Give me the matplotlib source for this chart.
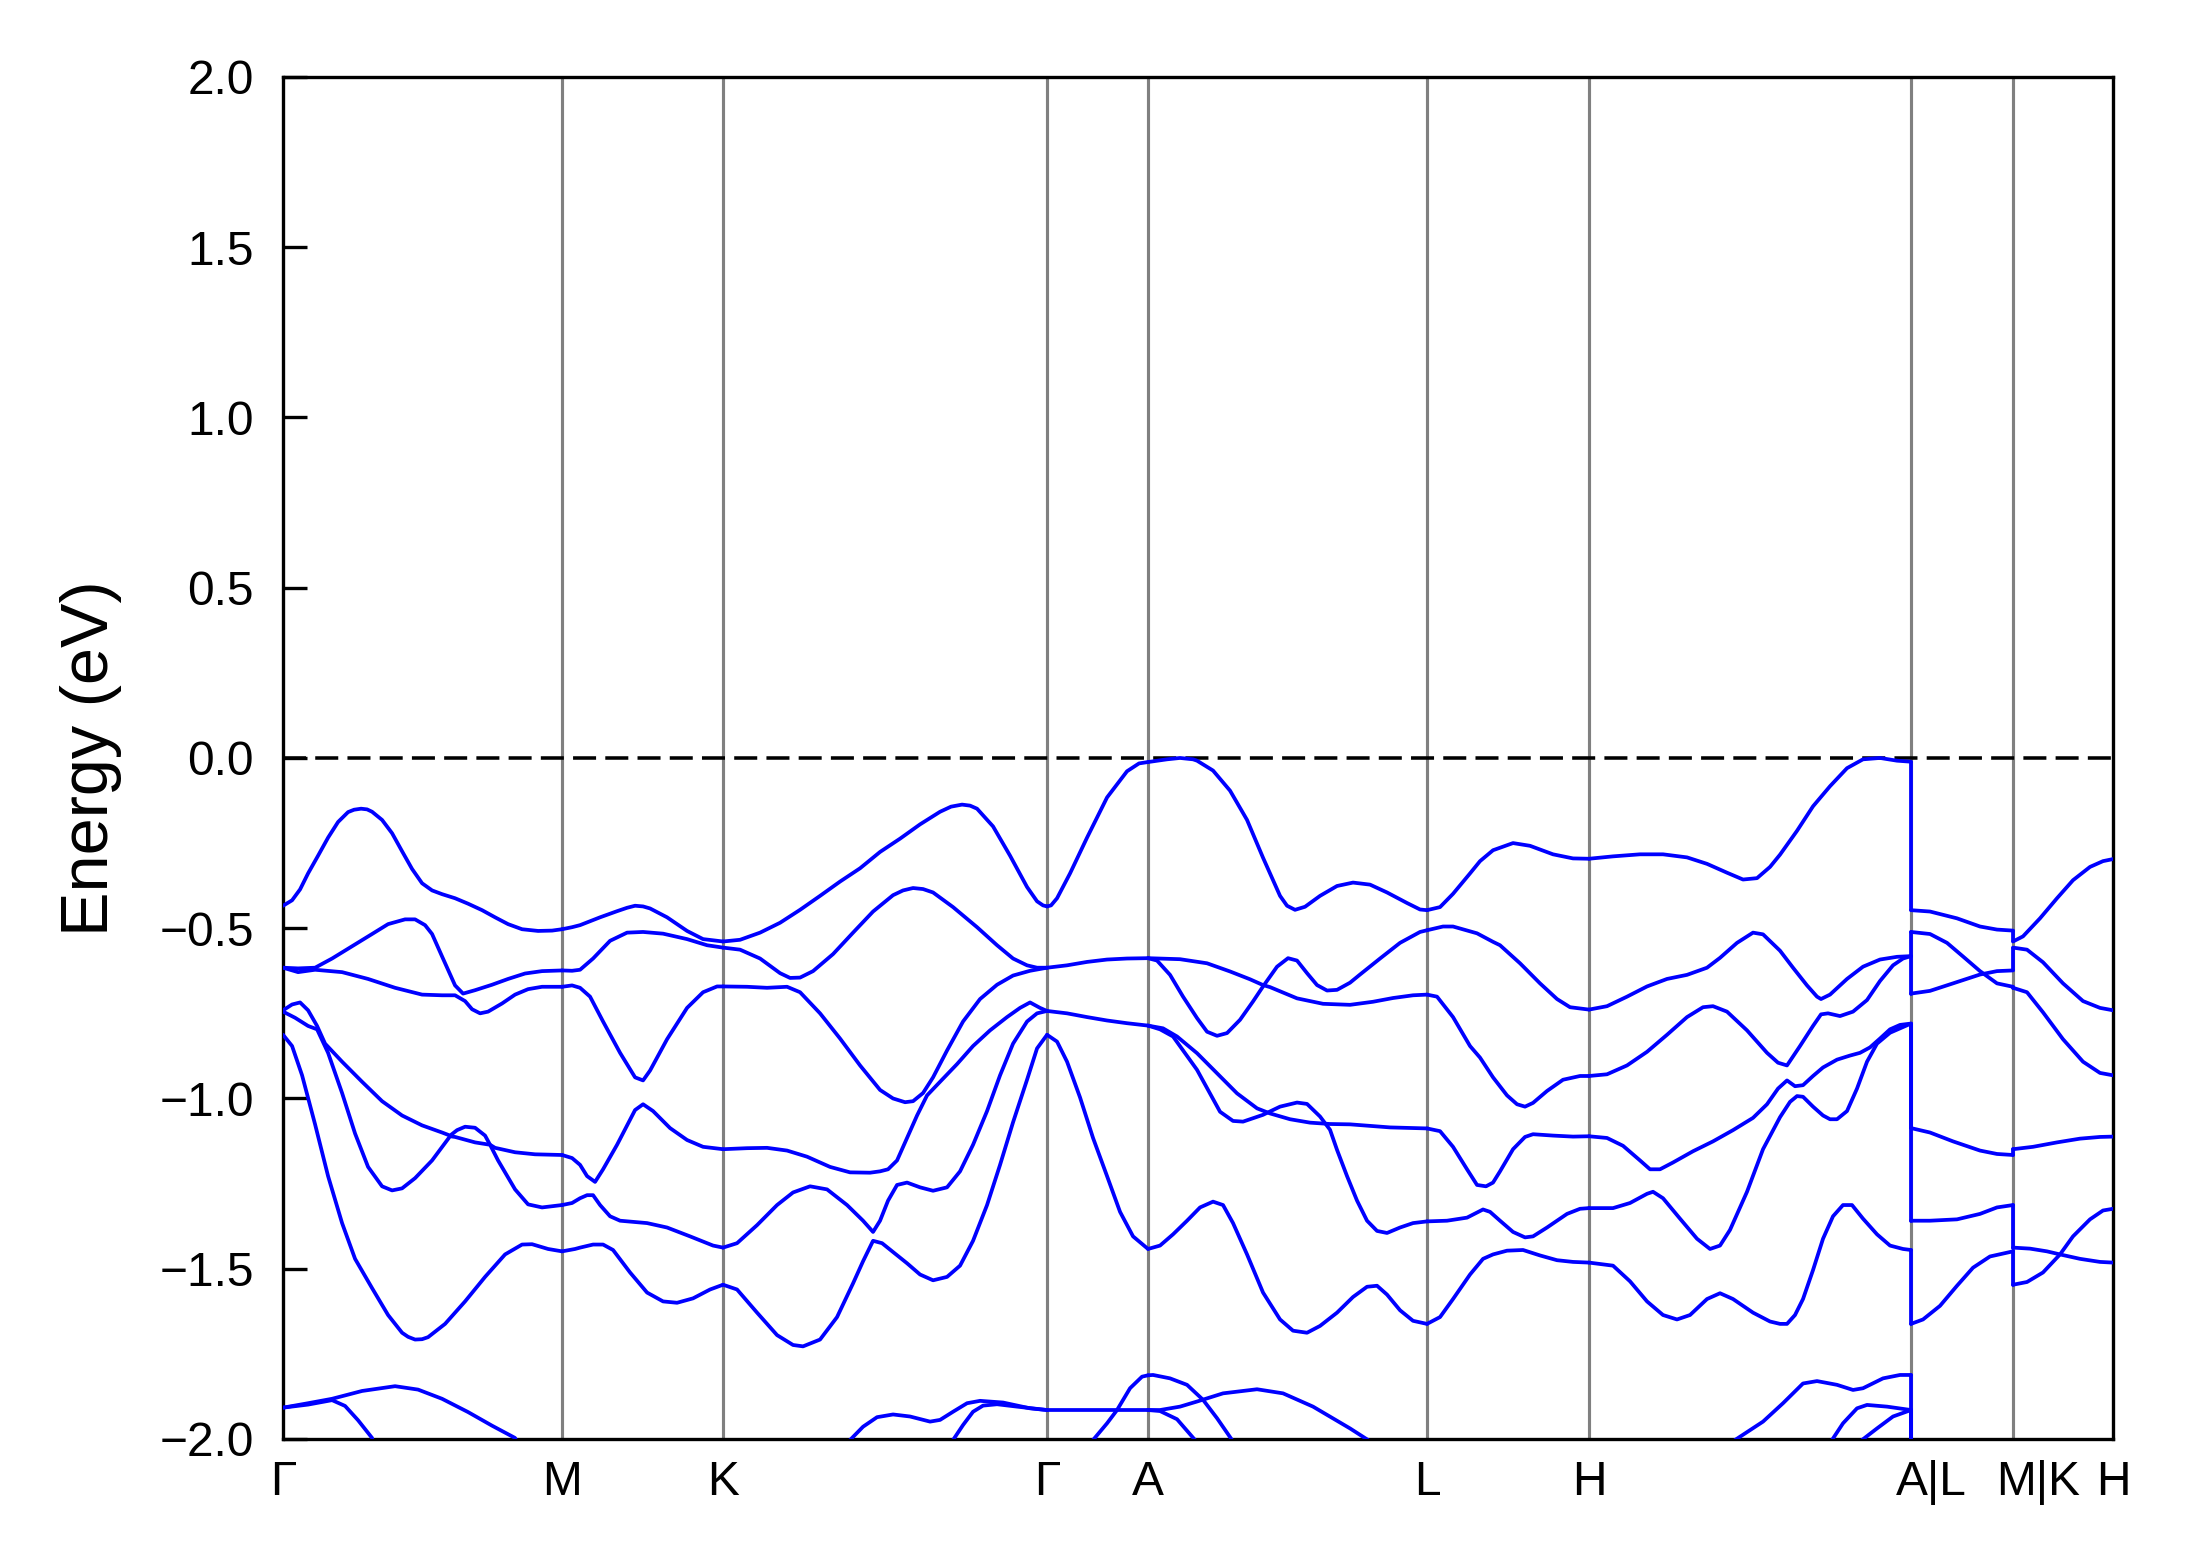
import numpy as np
import matplotlib
matplotlib.use('Agg')
import matplotlib.pyplot as plt
from matplotlib.transforms import ScaledTranslation

plt.rcParams['font.family'] = ['Liberation Sans', 'DejaVu Sans']

# high-symmetry points along the k-path (cumulative distance, arb. units)
kpt_labels = ['Γ', 'M', 'K', 'Γ', 'A', 'L', 'H', 'A|L', 'M|K', 'H']
kpt_pos = [0.0, 2.79, 4.40, 7.64, 8.65, 11.44, 13.06, 16.28, 17.30, 18.30]

# bands (E - E_F, eV) traced segment by segment, each band is a list of (k, E)
seg_GM = [
    [(0.00, -0.434), (0.09, -0.418), (0.17, -0.386), (0.25, -0.339), (0.35, -0.287), (0.45, -0.234),
     (0.55, -0.188), (0.65, -0.159), (0.71, -0.152), (0.78, -0.149), (0.84, -0.151), (0.89, -0.158),
     (0.99, -0.182), (1.09, -0.221), (1.19, -0.274), (1.29, -0.326), (1.39, -0.368), (1.49, -0.389),
     (1.59, -0.400), (1.72, -0.412), (1.85, -0.428), (1.99, -0.447), (2.12, -0.468), (2.25, -0.488),
     (2.39, -0.503), (2.55, -0.508), (2.69, -0.507), (2.79, -0.503)],
    [(0.00, -0.616), (0.15, -0.618), (0.32, -0.616), (0.49, -0.589), (0.69, -0.553), (0.89, -0.517),
     (1.05, -0.488), (1.22, -0.474), (1.32, -0.474), (1.42, -0.491), (1.49, -0.517), (1.59, -0.583),
     (1.72, -0.668), (1.80, -0.692), (1.92, -0.682), (2.09, -0.666), (2.25, -0.649), (2.42, -0.633),
     (2.59, -0.626), (2.79, -0.624)],
    [(0.00, -0.616), (0.15, -0.629), (0.32, -0.622), (0.59, -0.629), (0.85, -0.649), (1.12, -0.675),
     (1.39, -0.695), (1.59, -0.697), (1.72, -0.697), (1.82, -0.714), (1.89, -0.738), (1.97, -0.750),
     (2.05, -0.745), (2.19, -0.721), (2.32, -0.695), (2.45, -0.679), (2.59, -0.672), (2.79, -0.672)],
    [(0.00, -0.741), (0.09, -0.724), (0.17, -0.718), (0.25, -0.741), (0.34, -0.787), (0.42, -0.839),
     (0.59, -0.892), (0.79, -0.951), (0.99, -1.008), (1.19, -1.050), (1.39, -1.079), (1.59, -1.100),
     (1.67, -1.109), (1.74, -1.093), (1.82, -1.083), (1.92, -1.086), (2.02, -1.109), (2.07, -1.136),
     (2.12, -1.145), (2.32, -1.158), (2.52, -1.164), (2.79, -1.166)],
    [(0.00, -0.745), (0.12, -0.763), (0.25, -0.787), (0.34, -0.797), (0.45, -0.866), (0.59, -0.984),
     (0.72, -1.103), (0.85, -1.201), (0.99, -1.258), (1.09, -1.270), (1.19, -1.264), (1.32, -1.234),
     (1.49, -1.182), (1.67, -1.111), (1.72, -1.113), (1.92, -1.129), (2.07, -1.136), (2.15, -1.182),
     (2.32, -1.267), (2.45, -1.311), (2.59, -1.320), (2.79, -1.313)],
    [(0.00, -0.813), (0.09, -0.846), (0.19, -0.932), (0.32, -1.076), (0.45, -1.228), (0.59, -1.366),
     (0.72, -1.471), (0.89, -1.557), (1.05, -1.636), (1.19, -1.688), (1.25, -1.700), (1.32, -1.708),
     (1.39, -1.707), (1.45, -1.701), (1.62, -1.662), (1.82, -1.596), (2.02, -1.524), (2.22, -1.458),
     (2.39, -1.429), (2.49, -1.428), (2.65, -1.442), (2.79, -1.449)],
    [(0.00, -1.908), (0.25, -1.895), (0.49, -1.882), (0.79, -1.859), (1.12, -1.845), (1.35, -1.855),
     (1.59, -1.882), (1.85, -1.921), (2.09, -1.961), (2.32, -1.997), (2.38, -2.04)],
    [(0.00, -1.908), (0.25, -1.899), (0.49, -1.886), (0.62, -1.903), (0.75, -1.945), (0.89, -1.997),
     (0.92, -2.04)],
]

seg_MK = [
    [(2.79, -0.503), (2.89, -0.497), (2.97, -0.491), (3.17, -0.468), (3.34, -0.450), (3.44, -0.440),
     (3.52, -0.434), (3.60, -0.436), (3.67, -0.442), (3.84, -0.468), (4.04, -0.508), (4.20, -0.532),
     (4.40, -0.539)],
    [(2.79, -0.624), (2.89, -0.625), (2.97, -0.622), (3.10, -0.589), (3.27, -0.537), (3.44, -0.513),
     (3.60, -0.511), (3.80, -0.516), (4.04, -0.532), (4.24, -0.550), (4.40, -0.557)],
    [(2.79, -0.672), (2.89, -0.668), (2.97, -0.675), (3.07, -0.701), (3.20, -0.774), (3.37, -0.866),
     (3.52, -0.938), (3.60, -0.947), (3.67, -0.918), (3.84, -0.826), (4.04, -0.734), (4.20, -0.688),
     (4.34, -0.671), (4.40, -0.671)],
    [(2.79, -1.166), (2.89, -1.175), (2.97, -1.195), (3.04, -1.228), (3.12, -1.245), (3.20, -1.208),
     (3.34, -1.136), (3.52, -1.034), (3.60, -1.017), (3.70, -1.037), (3.87, -1.087), (4.04, -1.122),
     (4.20, -1.142), (4.40, -1.149)],
    [(2.79, -1.313), (2.89, -1.307), (2.97, -1.293), (3.04, -1.284), (3.10, -1.284), (3.17, -1.313),
     (3.27, -1.346), (3.37, -1.359), (3.64, -1.366), (3.84, -1.379), (4.07, -1.405), (4.30, -1.432),
     (4.40, -1.438)],
    [(2.79, -1.449), (2.92, -1.442), (2.97, -1.438), (3.10, -1.429), (3.20, -1.429), (3.30, -1.445),
     (3.47, -1.511), (3.64, -1.570), (3.80, -1.596), (3.94, -1.600), (4.10, -1.587), (4.27, -1.561),
     (4.40, -1.547)],
]

seg_KG = [
    [(4.40, -0.539), (4.57, -0.534), (4.77, -0.513), (4.97, -0.484), (5.17, -0.446), (5.37, -0.405),
     (5.57, -0.363), (5.77, -0.324), (5.97, -0.276), (6.17, -0.237), (6.37, -0.195), (6.57, -0.158),
     (6.68, -0.143), (6.79, -0.137), (6.87, -0.140), (6.94, -0.149), (7.10, -0.201), (7.27, -0.287),
     (7.44, -0.379), (7.54, -0.421), (7.60, -0.433), (7.64, -0.436)],
    [(4.40, -0.557), (4.57, -0.563), (4.77, -0.589), (4.97, -0.632), (5.07, -0.646), (5.17, -0.645),
     (5.30, -0.626), (5.50, -0.576), (5.70, -0.513), (5.90, -0.451), (6.10, -0.403), (6.20, -0.389),
     (6.30, -0.382), (6.40, -0.385), (6.50, -0.395), (6.70, -0.438), (6.94, -0.497), (7.14, -0.550),
     (7.30, -0.589), (7.44, -0.609), (7.54, -0.616), (7.64, -0.616)],
    [(4.40, -0.671), (4.64, -0.672), (4.84, -0.675), (5.04, -0.672), (5.17, -0.688), (5.37, -0.750),
     (5.57, -0.824), (5.77, -0.903), (5.97, -0.975), (6.10, -1.000), (6.22, -1.011), (6.30, -1.008),
     (6.40, -0.984), (6.50, -0.938), (6.64, -0.859), (6.80, -0.774), (6.97, -0.708), (7.14, -0.666),
     (7.30, -0.639), (7.47, -0.625), (7.64, -0.616)],
    [(4.40, -1.149), (4.64, -1.146), (4.84, -1.145), (5.04, -1.153), (5.24, -1.171), (5.47, -1.201),
     (5.67, -1.217), (5.87, -1.218), (5.97, -1.214), (6.05, -1.208), (6.14, -1.182), (6.24, -1.116),
     (6.34, -1.050), (6.44, -0.991), (6.57, -0.951), (6.74, -0.899), (6.90, -0.846), (7.07, -0.800),
     (7.24, -0.761), (7.37, -0.734), (7.47, -0.718), (7.57, -0.734), (7.64, -0.743)],
    [(4.40, -1.438), (4.54, -1.425), (4.74, -1.372), (4.94, -1.313), (5.10, -1.276), (5.27, -1.258),
     (5.44, -1.267), (5.64, -1.313), (5.80, -1.359), (5.90, -1.392), (5.97, -1.359), (6.05, -1.300),
     (6.14, -1.254), (6.24, -1.247), (6.37, -1.261), (6.50, -1.271), (6.64, -1.261), (6.77, -1.214),
     (6.90, -1.136), (7.04, -1.037), (7.17, -0.932), (7.30, -0.839), (7.44, -0.774), (7.54, -0.750),
     (7.64, -0.743)],
    [(4.40, -1.547), (4.54, -1.561), (4.74, -1.629), (4.94, -1.695), (5.10, -1.724), (5.20, -1.728),
     (5.37, -1.708), (5.54, -1.642), (5.70, -1.543), (5.80, -1.478), (5.90, -1.418), (5.99, -1.425),
     (6.10, -1.451), (6.24, -1.484), (6.37, -1.517), (6.50, -1.534), (6.64, -1.524), (6.77, -1.491),
     (6.90, -1.418), (7.04, -1.313), (7.17, -1.195), (7.30, -1.070), (7.44, -0.945), (7.54, -0.853),
     (7.64, -0.813)],
    [(5.64, -2.04), (5.67, -2.003), (5.80, -1.964), (5.94, -1.936), (6.10, -1.928), (6.27, -1.934),
     (6.47, -1.949), (6.57, -1.944), (6.70, -1.920), (6.84, -1.895), (6.97, -1.888), (7.20, -1.893),
     (7.47, -1.910), (7.64, -1.915)],
    [(6.68, -2.04), (6.70, -2.003), (6.80, -1.959), (6.90, -1.920), (7.00, -1.902), (7.14, -1.898),
     (7.34, -1.905), (7.64, -1.915)],
]

seg_GA = [
    [(7.64, -0.436), (7.68, -0.433), (7.74, -0.412), (7.87, -0.339), (8.04, -0.234), (8.24, -0.116),
     (8.44, -0.039), (8.56, -0.016), (8.65, -0.012)],
    [(7.64, -0.616), (7.84, -0.609), (8.04, -0.599), (8.24, -0.592), (8.44, -0.589), (8.65, -0.588)],
    [(7.64, -0.743), (7.84, -0.750), (8.04, -0.761), (8.24, -0.771), (8.44, -0.779), (8.65, -0.786)],
    [(7.64, -0.813), (7.74, -0.833), (7.84, -0.892), (7.97, -0.997), (8.10, -1.116), (8.24, -1.228),
     (8.37, -1.333), (8.50, -1.405), (8.65, -1.442)],
    [(7.64, -1.915), (8.15, -1.915), (8.65, -1.915)],
    [(8.09, -2.04), (8.10, -2.003), (8.24, -1.954), (8.34, -1.915), (8.47, -1.851), (8.59, -1.817),
     (8.65, -1.813)],
]

seg_AL = [
    [(8.65, -0.012), (8.84, -0.004), (8.97, 0.0), (9.10, -0.004), (9.14, -0.008), (9.30, -0.037),
     (9.47, -0.096), (9.64, -0.182), (9.80, -0.293), (9.97, -0.405), (10.04, -0.434), (10.12, -0.446),
     (10.22, -0.437), (10.37, -0.405), (10.54, -0.376), (10.70, -0.366), (10.87, -0.372), (11.04, -0.395),
     (11.24, -0.426), (11.37, -0.445), (11.44, -0.447)],
    [(8.65, -0.588), (8.97, -0.591), (9.24, -0.603), (9.47, -0.627), (9.67, -0.650), (9.80, -0.667),
     (9.87, -0.673), (10.14, -0.706), (10.40, -0.722), (10.67, -0.725), (10.90, -0.716), (11.10, -0.705),
     (11.30, -0.697), (11.44, -0.695)],
    [(8.65, -0.588), (8.74, -0.595), (8.87, -0.637), (9.00, -0.701), (9.14, -0.764), (9.24, -0.804),
     (9.34, -0.816), (9.44, -0.808), (9.57, -0.769), (9.70, -0.715), (9.80, -0.671), (9.94, -0.613),
     (10.05, -0.588), (10.14, -0.595), (10.24, -0.632), (10.34, -0.667), (10.44, -0.683), (10.54, -0.681),
     (10.67, -0.660), (10.77, -0.636), (10.97, -0.589), (11.17, -0.543), (11.37, -0.511), (11.44, -0.506)],
    [(8.65, -0.786), (8.80, -0.794), (8.94, -0.818), (9.14, -0.867), (9.34, -0.926), (9.54, -0.985),
     (9.74, -1.029), (9.87, -1.044), (10.07, -1.061), (10.27, -1.071), (10.47, -1.075), (10.67, -1.076),
     (11.07, -1.085), (11.44, -1.088)],
    [(8.65, -0.786), (8.77, -0.797), (8.90, -0.818), (9.14, -0.916), (9.37, -1.039), (9.50, -1.066),
     (9.60, -1.068), (9.80, -1.048), (9.97, -1.024), (10.14, -1.012), (10.24, -1.016), (10.37, -1.053),
     (10.47, -1.092), (10.54, -1.151), (10.64, -1.228), (10.74, -1.300), (10.84, -1.359), (10.94, -1.389),
     (11.04, -1.395), (11.17, -1.379), (11.30, -1.366), (11.44, -1.361)],
    [(8.65, -1.442), (8.77, -1.432), (8.90, -1.399), (9.04, -1.359), (9.17, -1.320), (9.30, -1.303),
     (9.40, -1.313), (9.50, -1.366), (9.64, -1.458), (9.80, -1.570), (9.97, -1.649), (10.10, -1.682),
     (10.24, -1.688), (10.37, -1.668), (10.54, -1.629), (10.70, -1.583), (10.84, -1.553), (10.94, -1.550),
     (11.04, -1.576), (11.17, -1.622), (11.30, -1.653), (11.44, -1.662)],
    [(8.65, -1.813), (8.70, -1.812), (8.87, -1.822), (9.04, -1.841), (9.20, -1.885), (9.34, -1.939),
     (9.49, -2.003), (9.51, -2.04)],
    [(8.65, -1.915), (8.77, -1.918), (8.94, -1.942), (9.12, -2.003), (9.15, -2.04)],
    [(8.65, -1.915), (8.77, -1.915), (8.97, -1.905), (9.14, -1.890), (9.40, -1.866), (9.74, -1.854),
     (10.00, -1.866), (10.30, -1.905), (10.67, -1.969), (10.85, -2.003), (10.88, -2.04)],
]

seg_LH = [
    [(11.44, -0.447), (11.57, -0.438), (11.70, -0.399), (11.87, -0.339), (11.97, -0.303), (12.10, -0.271),
     (12.30, -0.250), (12.47, -0.258), (12.70, -0.283), (12.90, -0.295), (13.06, -0.296)],
    [(11.44, -0.506), (11.60, -0.495), (11.70, -0.495), (11.94, -0.515), (12.10, -0.540), (12.17, -0.550),
     (12.37, -0.603), (12.57, -0.662), (12.74, -0.708), (12.87, -0.732), (13.06, -0.739)],
    [(11.44, -0.695), (11.54, -0.701), (11.70, -0.761), (11.87, -0.846), (11.97, -0.880), (12.10, -0.938),
     (12.24, -0.991), (12.34, -1.017), (12.42, -1.024), (12.50, -1.013), (12.64, -0.978), (12.80, -0.945),
     (12.97, -0.934), (13.06, -0.934)],
    [(11.44, -1.088), (11.57, -1.096), (11.70, -1.142), (11.84, -1.208), (11.94, -1.254), (12.03, -1.258),
     (12.10, -1.247), (12.17, -1.214), (12.30, -1.149), (12.42, -1.113), (12.50, -1.105), (12.70, -1.109),
     (12.90, -1.112), (13.06, -1.111)],
    [(11.44, -1.361), (11.64, -1.359), (11.84, -1.350), (12.00, -1.326), (12.07, -1.333), (12.17, -1.359),
     (12.30, -1.392), (12.42, -1.408), (12.50, -1.405), (12.64, -1.379), (12.84, -1.339), (12.97, -1.324),
     (13.06, -1.322)],
    [(11.44, -1.662), (11.57, -1.642), (11.70, -1.589), (11.87, -1.517), (12.00, -1.471), (12.10, -1.458),
     (12.24, -1.447), (12.40, -1.445), (12.57, -1.461), (12.74, -1.475), (12.90, -1.480), (13.06, -1.482)],
]

seg_HA = [
    [(13.06, -0.296), (13.30, -0.289), (13.57, -0.283), (13.80, -0.283), (14.04, -0.292), (14.24, -0.311),
     (14.44, -0.337), (14.60, -0.357), (14.74, -0.353), (14.87, -0.320), (14.97, -0.284), (15.14, -0.214),
     (15.30, -0.142), (15.47, -0.083), (15.64, -0.030), (15.80, -0.004), (15.97, 0.0), (16.14, -0.008),
     (16.28, -0.011)],
    [(13.06, -0.739), (13.24, -0.729), (13.44, -0.701), (13.64, -0.671), (13.84, -0.649), (14.04, -0.637),
     (14.24, -0.616), (14.37, -0.587), (14.54, -0.543), (14.70, -0.513), (14.80, -0.518), (14.97, -0.566),
     (15.10, -0.616), (15.24, -0.668), (15.34, -0.701), (15.38, -0.708), (15.47, -0.695), (15.64, -0.649),
     (15.80, -0.613), (15.97, -0.592), (16.14, -0.584), (16.28, -0.582)],
    [(13.06, -0.934), (13.24, -0.929), (13.44, -0.903), (13.64, -0.863), (13.84, -0.813), (14.04, -0.761),
     (14.20, -0.732), (14.30, -0.729), (14.44, -0.745), (14.64, -0.800), (14.84, -0.866), (14.95, -0.895),
     (15.04, -0.903), (15.17, -0.846), (15.30, -0.787), (15.38, -0.753), (15.45, -0.750), (15.57, -0.758),
     (15.70, -0.745), (15.84, -0.711), (15.97, -0.655), (16.10, -0.609), (16.20, -0.589), (16.28, -0.582)],
    [(13.06, -1.111), (13.24, -1.116), (13.40, -1.139), (13.57, -1.182), (13.67, -1.208), (13.77, -1.208),
     (13.90, -1.188), (14.10, -1.155), (14.30, -1.126), (14.50, -1.093), (14.70, -1.057), (14.84, -1.017),
     (14.95, -0.971), (15.04, -0.947), (15.12, -0.964), (15.20, -0.961), (15.30, -0.934), (15.40, -0.909),
     (15.54, -0.886), (15.67, -0.874), (15.77, -0.866), (15.87, -0.850), (15.97, -0.824), (16.07, -0.797),
     (16.17, -0.784), (16.28, -0.780)],
    [(13.06, -1.322), (13.30, -1.322), (13.47, -1.307), (13.64, -1.280), (13.70, -1.274), (13.80, -1.293),
     (13.97, -1.353), (14.14, -1.412), (14.27, -1.442), (14.37, -1.432), (14.47, -1.386), (14.64, -1.274),
     (14.80, -1.149), (14.97, -1.055), (15.07, -1.010), (15.14, -0.993), (15.20, -0.995), (15.30, -1.024),
     (15.40, -1.050), (15.47, -1.061), (15.54, -1.061), (15.64, -1.037), (15.74, -0.971), (15.84, -0.892),
     (15.94, -0.839), (16.07, -0.807), (16.28, -0.780)],
    [(13.06, -1.482), (13.30, -1.491), (13.47, -1.537), (13.64, -1.596), (13.80, -1.636), (13.94, -1.649),
     (14.07, -1.636), (14.24, -1.589), (14.37, -1.572), (14.50, -1.589), (14.70, -1.629), (14.87, -1.655),
     (14.97, -1.662), (15.04, -1.662), (15.12, -1.636), (15.20, -1.589), (15.30, -1.504), (15.40, -1.412),
     (15.50, -1.346), (15.60, -1.313), (15.69, -1.313), (15.80, -1.353), (15.94, -1.399), (16.07, -1.432),
     (16.20, -1.442), (16.28, -1.445)],
    [(14.50, -2.04), (14.52, -2.003), (14.80, -1.949), (15.00, -1.895), (15.20, -1.837), (15.34, -1.830),
     (15.54, -1.841), (15.70, -1.856), (15.80, -1.851), (16.00, -1.822), (16.17, -1.812), (16.28, -1.812)],
    [(15.48, -2.04), (15.49, -2.003), (15.60, -1.954), (15.74, -1.910), (15.84, -1.900), (16.04, -1.905),
     (16.28, -1.915)],
    [(15.77, -2.04), (15.79, -2.003), (15.94, -1.969), (16.10, -1.934), (16.28, -1.915)],
]

seg_LM = [
    [(16.28, -0.447), (16.47, -0.451), (16.74, -0.471), (16.97, -0.495), (17.14, -0.504), (17.30, -0.507)],
    [(16.28, -0.511), (16.47, -0.517), (16.64, -0.543), (16.80, -0.583), (16.97, -0.626), (17.14, -0.662),
     (17.30, -0.672)],
    [(16.28, -0.692), (16.47, -0.684), (16.70, -0.662), (16.97, -0.636), (17.14, -0.626), (17.30, -0.624)],
    [(16.28, -1.087), (16.47, -1.100), (16.70, -1.126), (16.97, -1.153), (17.14, -1.163), (17.30, -1.166)],
    [(16.28, -1.359), (16.47, -1.359), (16.74, -1.355), (16.97, -1.339), (17.14, -1.320), (17.30, -1.313)],
    [(16.28, -1.662), (16.40, -1.649), (16.57, -1.609), (16.74, -1.550), (16.90, -1.497), (17.07, -1.464),
     (17.30, -1.449)],
]

seg_KH = [
    [(17.30, -0.539), (17.40, -0.524), (17.57, -0.471), (17.74, -0.412), (17.90, -0.359), (18.07, -0.320),
     (18.20, -0.303), (18.30, -0.297)],
    [(17.30, -0.557), (17.44, -0.563), (17.60, -0.600), (17.80, -0.662), (18.00, -0.714), (18.17, -0.734),
     (18.30, -0.741)],
    [(17.30, -0.675), (17.44, -0.688), (17.60, -0.747), (17.80, -0.826), (18.00, -0.892), (18.17, -0.925),
     (18.30, -0.932)],
    [(17.30, -1.149), (17.50, -1.142), (17.74, -1.129), (17.97, -1.118), (18.17, -1.113), (18.30, -1.112)],
    [(17.30, -1.438), (17.47, -1.441), (17.64, -1.449), (17.77, -1.458), (17.97, -1.471), (18.17, -1.480),
     (18.30, -1.482)],
    [(17.30, -1.547), (17.44, -1.539), (17.60, -1.511), (17.77, -1.458), (17.90, -1.405), (18.07, -1.355),
     (18.20, -1.329), (18.30, -1.324)],
]

segments = [seg_GM, seg_MK, seg_KG, seg_GA, seg_AL, seg_LH, seg_HA, seg_LM, seg_KH]
e_lim = (-2.0, 2.0)

band_kw = dict(color='blue', lw=0.9, solid_joinstyle='round', solid_capstyle='round', zorder=3)

fig = plt.figure(figsize=(2191 / 300, 1567 / 300), dpi=300)
ax = fig.add_axes([0.1292, 0.0817, 0.8352, 0.8692])

for seg in segments:
    for band in seg:
        k, e = np.array(band).T
        ax.plot(k, e, **band_kw)


# path breaks (A|L, M|K): the bands jump from one branch to the next
def end_values(seg, k0, first):
    idx = 0 if first else -1
    return sorted((b[idx][1] for b in seg if abs(b[idx][0] - k0) < 1e-6), reverse=True)


for left, right, k0 in [(seg_HA, seg_LM, kpt_pos[7]), (seg_LM, seg_KH, kpt_pos[8])]:
    lv = end_values(left, k0, first=False)
    rv = end_values(right, k0, first=True)
    rv += [e_lim[0] - 0.1] * (len(lv) - len(rv))
    for a, b in zip(lv, rv):
        ax.plot([k0, k0], [a, b], **band_kw)

for k in kpt_pos[1:-1]:
    ax.axvline(k, color='gray', lw=0.75, zorder=1)
ax.axhline(0.0, color='black', lw=0.85, dashes=(6.5, 2.6), zorder=2)

ax.set_xlim(kpt_pos[0], kpt_pos[-1])
ax.set_ylim(*e_lim)
ax.set_yticks(np.arange(-2.0, 2.01, 0.5))
ax.set_xticks(kpt_pos)
ax.set_xticklabels(kpt_labels)
ax.set_ylabel('Energy (eV)', fontsize=16, labelpad=9)

ax.tick_params(axis='y', direction='in', length=5.8, width=0.8, pad=7, labelsize=11.5)
ax.tick_params(axis='x', length=0, pad=5.0, labelsize=11.5)
for sp in ax.spines.values():
    sp.set_linewidth(0.8)

# the combined labels sit a little right of their break lines
labels = ax.get_xticklabels()
for i, dx in [(7, 4.8), (8, 6.0)]:
    labels[i].set_transform(labels[i].get_transform() + ScaledTranslation(dx / 72, 0, fig.dpi_scale_trans))

fig.savefig('out.png', dpi=300)
